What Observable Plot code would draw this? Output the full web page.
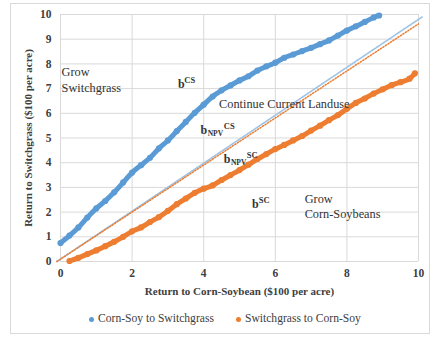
<!DOCTYPE html>
<html><head><meta charset="utf-8">
<script src="https://cdn.jsdelivr.net/npm/d3@7"></script>
<script src="https://cdn.jsdelivr.net/npm/@observablehq/plot@0.6"></script>
</head><body style="margin:0;background:#fff;font-family:'Liberation Serif'">
<div id="wrap" style="position:relative;width:431px;height:337px;overflow:hidden;background:#fff;font-family:'Liberation Serif'">
<div id="frame" style="position:absolute;left:10px;top:3px;width:420px;height:331px;border:1px solid #d9d9d9;box-sizing:border-box;"></div>
<div id="chart" style="position:absolute;left:0;top:0;font-family:'Liberation Serif'"></div>
<div id="legend" style="position:absolute;top:311px;left:89px;display:flex;gap:22px;font-family:'Liberation Serif';font-size:11.6px;color:#404040;line-height:16px;"></div>
</div>
<script>
const xTicks = [0, 2, 4, 6, 8, 10];
const yTicks = [0, 1, 2, 3, 4, 5, 6, 7, 8, 9, 10];
const seriesNames = ["Corn-Soy to Switchgrass", "Switchgrass to Corn-Soy"];
const seriesColors = ["#5B9BD5", "#ED7D31"];

const csX = [0,0.25,0.5,0.75,1,1.25,1.5,1.75,2,2.25,2.5,2.75,3,3.25,3.5,3.75,4,4.25,4.5,4.75,5,5.25,5.5,5.75,6,6.25,6.5,6.75,7,7.25,7.5,7.75,8,8.25,8.5,8.75,8.9];
const csY = [0.75,1.05,1.38,1.78,2.15,2.45,2.8,3.2,3.6,3.9,4.2,4.58,4.9,5.28,5.65,6.02,6.35,6.68,6.93,7.13,7.33,7.5,7.73,7.9,8.05,8.25,8.38,8.52,8.65,8.8,8.95,9.15,9.35,9.52,9.7,9.88,9.96];

const scX = [0.25,0.5,0.75,1,1.25,1.5,1.75,2,2.25,2.5,2.75,3,3.25,3.5,3.75,4,4.25,4.5,4.75,5,5.25,5.5,5.75,6,6.25,6.5,6.75,7,7.25,7.5,7.75,8,8.25,8.5,8.75,9,9.25,9.5,9.75,9.9];
const scY = [0.02,0.15,0.3,0.45,0.62,0.8,1.0,1.22,1.38,1.6,1.8,2.05,2.32,2.55,2.78,2.95,3.08,3.3,3.5,3.7,3.92,4.15,4.35,4.55,4.72,4.9,5.08,5.3,5.5,5.72,5.93,6.18,6.42,6.6,6.8,6.97,7.14,7.26,7.4,7.62];

const npvCsX = [-0.1, 10.1];
const npvCsY = [0, 9.9];
const npvScX = [-0.1, 10];
const npvScY = [0, 9.62];

const labelText = ["Grow", "Switchgrass", "Continue Current Landuse", "Grow", "Corn-Soybeans"];
const labelX = [0.03, 0.03, 4.43, 6.82, 6.82];
const labelY = [7.66, 7.04, 6.38, 2.54, 1.93];
const bText = ["b", "b", "b", "b"];
const bX = [3.28, 3.91, 4.56, 5.35];
const bY = [7.19, 5.30, 4.16, 2.34];
const supText = ["CS", "CS", "SC", "SC"];
const supX = [3.46, 4.56, 5.20, 5.54];
const supY = [7.33, 5.47, 4.31, 2.47];
const subText = ["NPV", "NPV"];
const subX = [4.11, 4.76];
const subY = [5.16, 4.02];

const xTitle = "Return to Corn-Soybean ($100 per acre)";
const yTitle = "Return to Switchgrass ($100 per acre)";

const cs = csX.map((x, i) => ({x, y: csY[i]}));
const sc = scX.map((x, i) => ({x, y: scY[i]}));
const npvCs = npvCsX.map((x, i) => ({x, y: npvCsY[i]}));
const npvSc = npvScX.map((x, i) => ({x, y: npvScY[i]}));
const grid = "#d9d9d9";
const serifFont = "Liberation Serif";

const chart = Plot.plot({
  width: 431, height: 305,
  marginLeft: 60, marginRight: 13, marginTop: 14, marginBottom: 44,
  x: {domain: [0, 10]},
  y: {domain: [0, 10]},
  style: {fontFamily: serifFont, fontSize: "11.5px", fontWeight: "bold", background: "transparent", color: "#404040"},
  marks: [
    Plot.gridX(xTicks, {stroke: grid, strokeOpacity: 1}),
    Plot.gridY(yTicks, {stroke: grid, strokeOpacity: 1}),
    Plot.axisX(xTicks, {tickSize: 0, tickPadding: 7, label: null, fill: "#404040"}),
    Plot.axisY(yTicks, {tickSize: 0, tickPadding: 9, label: null, fill: "#404040"}),
    Plot.text([xTitle], {frameAnchor: "bottom", dy: 30, textAnchor: "middle", lineAnchor: "middle", fontSize: 11, fontWeight: "bold", fill: "#404040"}),
    Plot.text([yTitle], {frameAnchor: "left", dx: -32, rotate: -90, textAnchor: "middle", lineAnchor: "middle", fontSize: 11, fontWeight: "bold", fill: "#404040"}),
    Plot.line(npvCs, {x: "x", y: "y", stroke: "#9DC3E6", strokeWidth: 1.6, strokeDasharray: "2.5,1"}),
    Plot.line(npvSc, {x: "x", y: "y", stroke: seriesColors[1], strokeWidth: 1.5, strokeDasharray: "1.3,1.7"}),
    Plot.line(cs, {x: "x", y: "y", stroke: seriesColors[0], strokeWidth: 5, strokeLinecap: "round", curve: "catmull-rom"}),
    Plot.dot(cs, {x: "x", y: "y", r: 3.1, fill: seriesColors[0]}),
    Plot.line(sc, {x: "x", y: "y", stroke: seriesColors[1], strokeWidth: 5, strokeLinecap: "round", curve: "catmull-rom"}),
    Plot.dot(sc, {x: "x", y: "y", r: 3.1, fill: seriesColors[1]}),
    Plot.text(labelText, {x: (d, i) => labelX[i], y: (d, i) => labelY[i], text: d => d, textAnchor: "start", fontSize: 12.3, fontWeight: "normal", fill: "#333"}),
    Plot.text(bText, {x: (d, i) => bX[i], y: (d, i) => bY[i], text: d => d, textAnchor: "start", fontSize: 12, fontWeight: "bold", fill: "#333"}),
    Plot.text(supText, {x: (d, i) => supX[i], y: (d, i) => supY[i], text: d => d, textAnchor: "start", fontSize: 8.5, fontWeight: "bold", fill: "#333"}),
    Plot.text(subText, {x: (d, i) => subX[i], y: (d, i) => subY[i], text: d => d, textAnchor: "start", fontSize: 7.5, fontWeight: "bold", fill: "#333"})
  ]
});
chart.querySelectorAll("text, g").forEach(t => t.style.setProperty("font-family", "'Liberation Serif'", "important"));
chart.style.setProperty("font-family", "'Liberation Serif'", "important");
document.getElementById("chart").appendChild(chart);

const legend = document.getElementById("legend");
seriesNames.forEach((name, i) => {
  const item = document.createElement("div");
  item.style.cssText = "display:flex;align-items:center;";
  const sw = document.createElement("span");
  sw.style.cssText = "width:5px;height:5px;border-radius:50%;margin-right:4px;background:" + seriesColors[i];
  const t = document.createElement("span");
  t.style.fontFamily = "'Liberation Serif'";
  t.textContent = name;
  item.appendChild(sw); item.appendChild(t);
  legend.appendChild(item);
});
</script>
</body></html>
